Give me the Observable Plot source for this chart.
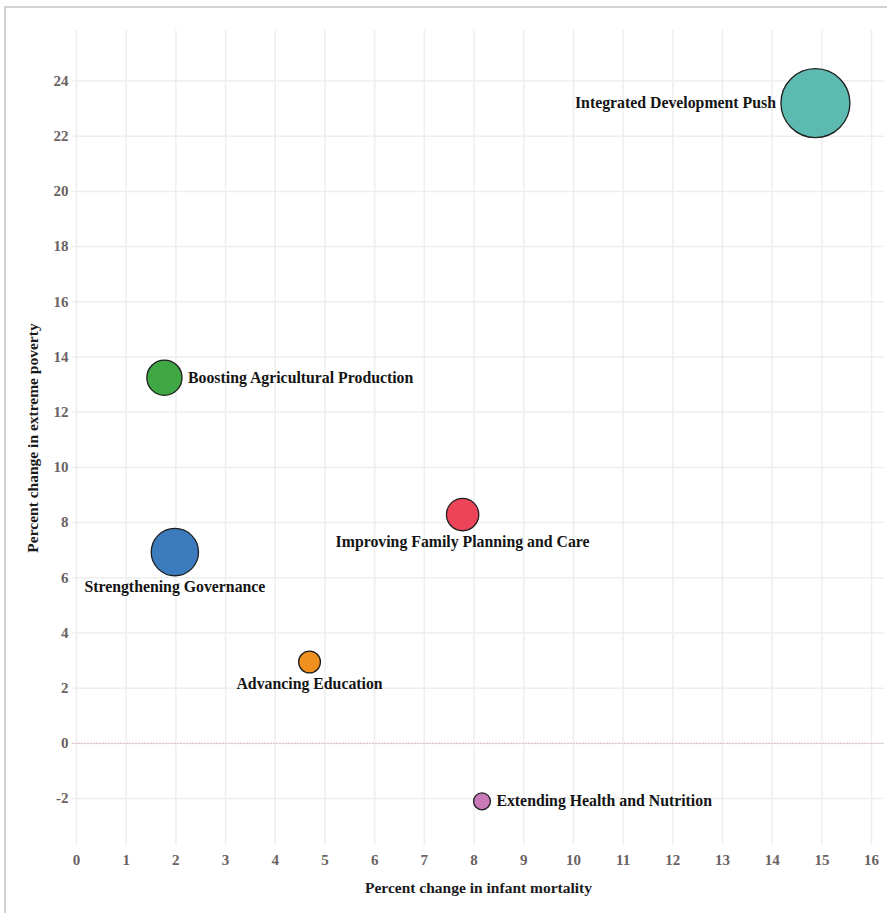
<!DOCTYPE html>
<html>
<head>
<meta charset="utf-8">
<script src="https://cdn.jsdelivr.net/npm/d3@7"></script>
<script src="https://cdn.jsdelivr.net/npm/@observablehq/plot@0.6"></script>
<style>
  html, body { margin: 0; padding: 0; background: #fff; }
  #wrap { position: relative; width: 887px; height: 913px; overflow: hidden; }
  #frame { position: absolute; left: 4px; top: 6px; right: -10px; bottom: -10px;
           border-left: 2px solid #d2d2d2; border-top: 2px solid #d2d2d2; pointer-events: none; }
  #chart { position: absolute; left: 0; top: 0; }
  #chart svg g[aria-label="x-axis tick label"] text,
  #chart svg g[aria-label="y-axis tick label"] text { fill: #6a6262; }
</style>
</head>
<body>
<div id="wrap"><div id="chart"></div><div id="frame"></div></div>
<script>
// ---- data ----
const programs = [
  "Integrated Development Push",
  "Boosting Agricultural Production",
  "Strengthening Governance",
  "Improving Family Planning and Care",
  "Advancing Education",
  "Extending Health and Nutrition"
];
const infantMortalityChange = [14.87, 1.77, 1.98, 7.77, 4.69, 8.16];
const extremePovertyChange = [23.2, 13.25, 6.93, 8.29, 2.95, -2.1];
const programSize = [100, 26, 47, 22, 10, 6];
const xTicks = [0,1,2,3,4,5,6,7,8,9,10,11,12,13,14,15,16];
const yTicks = [-2,0,2,4,6,8,10,12,14,16,18,20,22,24];

// ---- styling ----
const palette = {
  "Integrated Development Push": "#5cbab0",
  "Boosting Agricultural Production": "#3fa844",
  "Strengthening Governance": "#3c7bbd",
  "Improving Family Planning and Care": "#ec4458",
  "Advancing Education": "#f0901f",
  "Extending Health and Nutrition": "#c879b8"
};
const placement = {
  "Integrated Development Push": "left",
  "Boosting Agricultural Production": "right",
  "Strengthening Governance": "below",
  "Improving Family Planning and Care": "below",
  "Advancing Education": "below",
  "Extending Health and Nutrition": "right"
};

const data = programs.map((p, i) => ({
  program: p,
  im: infantMortalityChange[i],
  pov: extremePovertyChange[i],
  size: programSize[i],
  color: palette[p]
}));

const rOpts = {type: "sqrt", domain: [0, d3.max(programSize)], range: [0, 34.5]};
const rScale = Plot.scale({r: rOpts});

const font = "'Liberation Serif', 'Times New Roman', serif";

const labelMarks = data.map(d => {
  const r = rScale.apply(d.size);
  const side = placement[d.program];
  const o = {x: "im", y: "pov", text: "program", fontFamily: font, fontWeight: "bold",
             fontSize: 15.8, fill: "#141414"};
  if (side === "left") Object.assign(o, {textAnchor: "end", dx: -(r + 5)});
  else if (side === "right") Object.assign(o, {textAnchor: "start", dx: r + 6});
  else Object.assign(o, {textAnchor: "middle", dy: r + 11});
  return Plot.text([d], o);
});

const chart = Plot.plot({
  width: 887,
  height: 913,
  marginTop: 30,
  marginBottom: 68,
  marginLeft: 72,
  marginRight: 3,
  style: {fontFamily: font, fontSize: "15px", fontWeight: "bold", background: "transparent"},
  x: {domain: [-0.08, 16.26], ticks: xTicks},
  y: {domain: [-3.7, 25.83], ticks: yTicks},
  r: rOpts,
  marks: [
    Plot.gridX(xTicks, {stroke: "#eeeeee", strokeOpacity: 1, strokeWidth: 1.5}),
    Plot.gridY(yTicks, {stroke: "#eeeeee", strokeOpacity: 1, strokeWidth: 1.5}),
    Plot.ruleY([0], {stroke: "#dcc8c4", strokeDasharray: "2,1", strokeWidth: 1.2}),
    Plot.axisX(xTicks, {tickSize: 0, tickPadding: 9, fontSize: 15, fontWeight: "bold",
      label: "Percent change in infant mortality", labelAnchor: "center", labelOffset: 47, labelArrow: false}),
    Plot.axisY(yTicks, {tickSize: 0, tickPadding: 4, fontSize: 15, fontWeight: "bold",
      tickFormat: d => String(d),
      label: "Percent change in extreme poverty", labelAnchor: "center", labelOffset: 46, labelArrow: false}),
    Plot.dot(data, {x: "im", y: "pov", r: "size", fill: "color", stroke: "#1e1e1e", strokeWidth: 1.3}),
    ...labelMarks
  ]
});
document.getElementById("chart").appendChild(chart);
// axis titles slightly larger and darker than tick labels
chart.querySelectorAll('g[aria-label="x-axis label"] text, g[aria-label="y-axis label"] text')
  .forEach(t => { t.setAttribute("font-size", "15.5"); t.setAttribute("fill", "#1a1a1a"); });
</script>
</body>
</html>
